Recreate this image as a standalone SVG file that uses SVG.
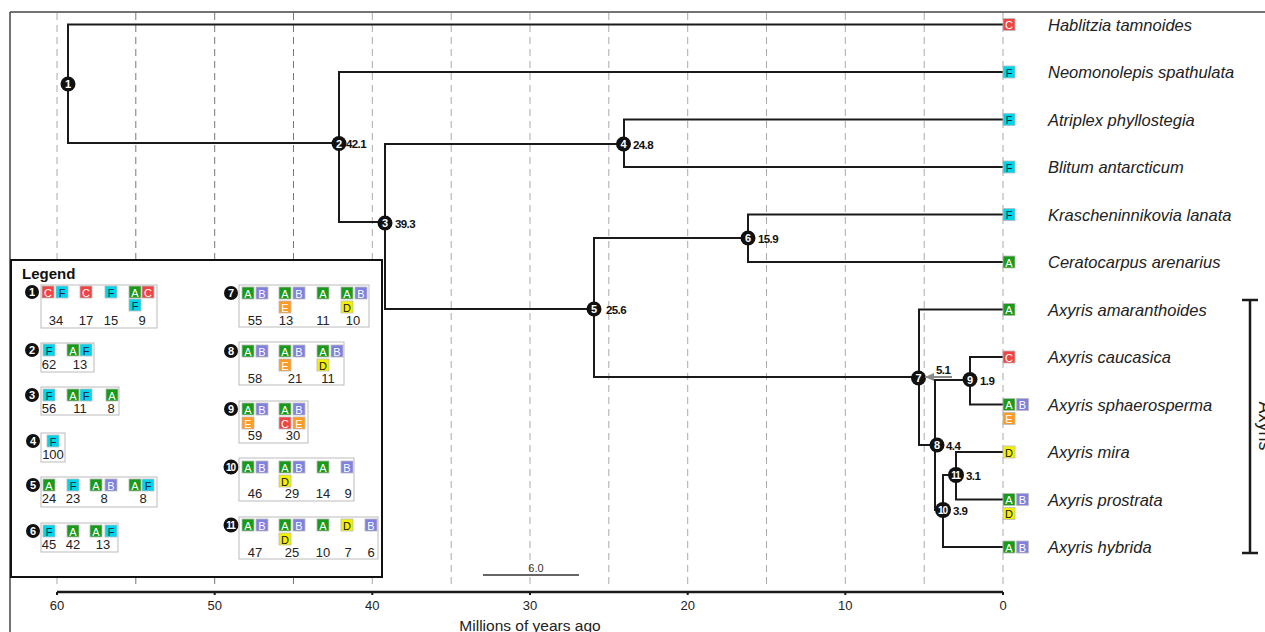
<svg xmlns="http://www.w3.org/2000/svg" width="1265" height="632" viewBox="0 0 1265 632">
<style>
text{font-family:"Liberation Sans",Arial,sans-serif}
.grid{stroke:#aaa;stroke-width:1;stroke-dasharray:7,5}
.grid.dk{stroke:#777}
.br{fill:none;stroke:#1a1a1a;stroke-width:2}
.nc{fill:#111}
.nn{fill:#fff;font-size:11px;font-weight:bold;text-anchor:middle}
.nn2{fill:#fff;font-size:10px;font-weight:bold;text-anchor:middle;letter-spacing:-1px}
.age{fill:#111;font-size:11.5px;font-weight:bold;letter-spacing:-0.6px}
.tip{fill:#222;font-size:16.5px;font-style:italic}
.sq{stroke:#bbb;stroke-width:0.8}
.A{fill:#1a9a1a}.B{fill:#8080e0}.C{fill:#f04444}.D{fill:#f2f200}.E{fill:#ff9a22}.F{fill:#00d4ec}
.l{font-size:11px;text-anchor:middle}
.lw{fill:#fff}.ld{fill:#223}
.lbox{fill:#fff;stroke:#bbb;stroke-width:1}
.num{fill:#222;font-size:13px;text-anchor:middle}
.ax{fill:#222;font-size:13px;text-anchor:middle}
</style>
<defs>
<marker id="arr" markerWidth="9" markerHeight="8" refX="9" refY="4" orient="auto" markerUnits="userSpaceOnUse">
<path d="M0,0 L9,4 L0,8 Z" fill="#888"/>
</marker>
</defs>

<!-- frame -->
<g id="frame">
<line x1="10" y1="12" x2="1265" y2="12" stroke="#444" stroke-width="1.5"/>
<line x1="10" y1="12" x2="10" y2="632" stroke="#444" stroke-width="1.5"/>
</g>

<!-- gridlines -->
<g id="grid">
<line class="grid" x1="57" y1="13" x2="57" y2="588"/>
<line class="grid dk" x1="135.8" y1="13" x2="135.8" y2="588"/>
<line class="grid dk" x1="214.7" y1="13" x2="214.7" y2="588"/>
<line class="grid dk" x1="293.5" y1="13" x2="293.5" y2="588"/>
<line class="grid" x1="372.3" y1="13" x2="372.3" y2="588"/>
<line class="grid" x1="451.2" y1="13" x2="451.2" y2="588"/>
<line class="grid" x1="530" y1="13" x2="530" y2="588"/>
<line class="grid" x1="608.8" y1="13" x2="608.8" y2="588"/>
<line class="grid" x1="687.7" y1="13" x2="687.7" y2="588"/>
<line class="grid" x1="766.5" y1="13" x2="766.5" y2="588"/>
<line class="grid" x1="845.3" y1="13" x2="845.3" y2="588"/>
<line class="grid" x1="924.2" y1="13" x2="924.2" y2="588"/>
<line class="grid" x1="1003" y1="13" x2="1003" y2="588"/>
</g>

<!-- connectors -->
<g id="connectors">
<path class="br" d="M1003,24.5 H68 V143 H339"/>
<path class="br" d="M1003,72 H339 V222 H385"/>
<path class="br" d="M1003,119.5 H624 V167 H1003"/>
<path class="br" d="M624,144 H385 V309 H594"/>
<path class="br" d="M748,238 H594 V377 H919"/>
<path class="br" d="M1003,214.5 H748 V262 H1003"/>
<path class="br" d="M1003,309.5 H919 V445 H937"/>
<path class="br" d="M971,380 H935 V510 H943"/>
<path class="br" d="M1003,357 H970 V404.5 H1003"/>
<path class="br" d="M956,475 H943 V547 H1003"/>
<path class="br" d="M1003,452 H956 V499.5 H1003"/>
</g>

<!-- nodes -->
<g id="node1"><circle class="nc" cx="68" cy="84" r="7.5"/><text class="nn" x="68" y="88">1</text></g>
<g id="node2"><circle class="nc" cx="339" cy="143.5" r="7.5"/><text class="nn" x="339" y="147.5">2</text><text class="age" x="346" y="148">42.1</text></g>
<g id="node3"><circle class="nc" cx="385" cy="223" r="7.5"/><text class="nn" x="385" y="227">3</text><text class="age" x="395" y="227.5">39.3</text></g>
<g id="node4"><circle class="nc" cx="623.5" cy="144" r="7.5"/><text class="nn" x="623.5" y="148">4</text><text class="age" x="633" y="148.5">24.8</text></g>
<g id="node5"><circle class="nc" cx="594" cy="309" r="7.5"/><text class="nn" x="594" y="313">5</text><text class="age" x="606" y="313.5">25.6</text></g>
<g id="node6"><circle class="nc" cx="748" cy="238" r="7.5"/><text class="nn" x="748" y="242">6</text><text class="age" x="758" y="242.5">15.9</text></g>
<g id="node7"><circle class="nc" cx="918.5" cy="378" r="7.5"/><text class="nn" x="918.5" y="382">7</text></g>
<g id="node8"><circle class="nc" cx="937" cy="445" r="7.5"/><text class="nn" x="937" y="449">8</text><text class="age" x="946" y="449.5">4.4</text></g>
<g id="node9"><circle class="nc" cx="970" cy="379.5" r="7.5"/><text class="nn" x="970" y="383.5">9</text><text class="age" x="980" y="384.5">1.9</text></g>
<g id="node10"><circle class="nc" cx="943" cy="510" r="8"/><text class="nn2" x="942.5" y="513.5">10</text><text class="age" x="953" y="515">3.9</text></g>
<g id="node11"><circle class="nc" cx="956" cy="475" r="8"/><text class="nn2" x="955.5" y="478.5">11</text><text class="age" x="966" y="479.5">3.1</text></g>

<!-- arrow with age 5.1 -->
<g id="arrow51">
<line x1="952" y1="377" x2="925" y2="377" stroke="#888" stroke-width="2" marker-end="url(#arr)"/>
<text class="age" x="936" y="374" fill="#333">5.1</text>
</g>

<!-- tips -->
<g id="tip-hablitzia"><rect class="sq C" x="1003" y="18.5" width="12" height="12"/><text class="l lw" x="1009" y="29">C</text><text class="tip" x="1048" y="30.5">Hablitzia tamnoides</text></g>
<g id="tip-neomonolepis"><rect class="sq F" x="1003" y="66" width="12" height="12"/><text class="l ld" x="1009" y="76.5">F</text><text class="tip" x="1048" y="78">Neomonolepis spathulata</text></g>
<g id="tip-atriplex"><rect class="sq F" x="1003" y="113.5" width="12" height="12"/><text class="l ld" x="1009" y="124">F</text><text class="tip" x="1048" y="125.5">Atriplex phyllostegia</text></g>
<g id="tip-blitum"><rect class="sq F" x="1003" y="161" width="12" height="12"/><text class="l ld" x="1009" y="171.5">F</text><text class="tip" x="1048" y="173">Blitum antarcticum</text></g>
<g id="tip-krasch"><rect class="sq F" x="1003" y="208.5" width="12" height="12"/><text class="l ld" x="1009" y="219">F</text><text class="tip" x="1048" y="220.5">Krascheninnikovia lanata</text></g>
<g id="tip-ceratocarpus"><rect class="sq A" x="1003" y="256" width="12" height="12"/><text class="l lw" x="1009" y="266.5">A</text><text class="tip" x="1048" y="268">Ceratocarpus arenarius</text></g>
<g id="tip-amaranthoides"><rect class="sq A" x="1003" y="303.5" width="12" height="12"/><text class="l lw" x="1009" y="314">A</text><text class="tip" x="1048" y="315.5">Axyris amaranthoides</text></g>
<g id="tip-caucasica"><rect class="sq C" x="1003" y="351" width="12" height="12"/><text class="l lw" x="1009" y="361.5">C</text><text class="tip" x="1048" y="363">Axyris caucasica</text></g>
<g id="tip-sphaerosperma"><rect class="sq A" x="1003" y="398.5" width="12" height="12"/><text class="l lw" x="1009" y="409">A</text><rect class="sq B" x="1016.5" y="398.5" width="12" height="12"/><text class="l lw" x="1022.5" y="409">B</text><rect class="sq E" x="1003" y="412.5" width="12" height="12"/><text class="l lw" x="1009" y="423">E</text><text class="tip" x="1048" y="410.5">Axyris sphaerosperma</text></g>
<g id="tip-mira"><rect class="sq D" x="1003" y="446" width="12" height="12"/><text class="l" x="1009" y="456.5" fill="#111">D</text><text class="tip" x="1048" y="458">Axyris mira</text></g>
<g id="tip-prostrata"><rect class="sq A" x="1003" y="493.5" width="12" height="12"/><text class="l lw" x="1009" y="504">A</text><rect class="sq B" x="1016.5" y="493.5" width="12" height="12"/><text class="l lw" x="1022.5" y="504">B</text><rect class="sq D" x="1003" y="507.5" width="12" height="12"/><text class="l" x="1009" y="518" fill="#111">D</text><text class="tip" x="1048" y="505.5">Axyris prostrata</text></g>
<g id="tip-hybrida"><rect class="sq A" x="1003" y="541" width="12" height="12"/><text class="l lw" x="1009" y="551.5">A</text><rect class="sq B" x="1016.5" y="541" width="12" height="12"/><text class="l lw" x="1022.5" y="551.5">B</text><text class="tip" x="1048" y="553">Axyris hybrida</text></g>

<!-- Axyris bracket -->
<g id="axyris-clade">
<path d="M1242,300 H1258 M1250,300 V553 M1242,553 H1258" fill="none" stroke="#1a1a1a" stroke-width="2.5"/>
<text x="1259" y="426" transform="rotate(90 1259 426)" font-size="18" fill="#222" text-anchor="middle">Axyris</text>
</g>

<!-- axis -->
<g id="axis">
<line x1="57" y1="592" x2="1003" y2="592" stroke="#1a1a1a" stroke-width="2.5"/>
<path d="M57,592 v3 M214.7,592 v3 M372.3,592 v3 M530,592 v3 M687.7,592 v3 M845.3,592 v3 M1003,592 v3" stroke="#1a1a1a" stroke-width="2"/>
<text class="ax" x="57" y="610">60</text>
<text class="ax" x="214.7" y="610">50</text>
<text class="ax" x="372.3" y="610">40</text>
<text class="ax" x="530" y="610">30</text>
<text class="ax" x="687.7" y="610">20</text>
<text class="ax" x="845.3" y="610">10</text>
<text class="ax" x="1003" y="610">0</text>
<text x="530" y="631" font-size="15.5" fill="#222" text-anchor="middle">Millions of years ago</text>
</g>

<!-- scale bar -->
<g id="scalebar">
<line x1="483" y1="575" x2="579" y2="575" stroke="#333" stroke-width="1.5"/>
<text x="536" y="572" font-size="11" fill="#333" text-anchor="middle">6.0</text>
</g>

<!-- legend -->
<g id="legend">
<rect x="11" y="260" width="371" height="317" fill="#fff" stroke="#111" stroke-width="2"/>
<text x="22" y="279" font-size="15" font-weight="bold" fill="#111">Legend</text>

<g id="leg1">
<circle class="nc" cx="32" cy="292" r="7"/><text class="nn" x="32" y="296">1</text>
<rect class="lbox" x="41" y="285" width="116" height="43"/>
<rect class="sq C" x="42" y="286" width="12" height="12"/><text class="l lw" x="48" y="296.5">C</text>
<rect class="sq F" x="56" y="286" width="12" height="12"/><text class="l ld" x="62" y="296.5">F</text>
<rect class="sq C" x="80" y="286" width="12" height="12"/><text class="l lw" x="86" y="296.5">C</text>
<rect class="sq F" x="105" y="286" width="12" height="12"/><text class="l ld" x="111" y="296.5">F</text>
<rect class="sq A" x="129" y="286" width="12" height="12"/><text class="l lw" x="135" y="296.5">A</text>
<rect class="sq C" x="142" y="286" width="12" height="12"/><text class="l lw" x="148" y="296.5">C</text>
<rect class="sq F" x="129" y="299" width="12" height="12"/><text class="l ld" x="135" y="309.5">F</text>
<text class="num" x="56" y="325">34</text><text class="num" x="86" y="325">17</text><text class="num" x="111" y="325">15</text><text class="num" x="142" y="325">9</text>
</g>

<g id="leg2">
<circle class="nc" cx="32" cy="350" r="7"/><text class="nn" x="32" y="354">2</text>
<rect class="lbox" x="41" y="343" width="53" height="29"/>
<rect class="sq F" x="43" y="344" width="12" height="12"/><text class="l ld" x="49" y="354.5">F</text>
<rect class="sq A" x="67" y="344" width="12" height="12"/><text class="l lw" x="73" y="354.5">A</text>
<rect class="sq F" x="80" y="344" width="12" height="12"/><text class="l ld" x="86" y="354.5">F</text>
<text class="num" x="49" y="369">62</text><text class="num" x="80" y="369">13</text>
</g>

<g id="leg3">
<circle class="nc" cx="32" cy="395" r="7"/><text class="nn" x="32" y="399">3</text>
<rect class="lbox" x="41" y="387" width="78" height="28"/>
<rect class="sq F" x="43" y="389" width="12" height="12"/><text class="l ld" x="49" y="399.5">F</text>
<rect class="sq A" x="67" y="389" width="12" height="12"/><text class="l lw" x="73" y="399.5">A</text>
<rect class="sq F" x="80" y="389" width="12" height="12"/><text class="l ld" x="86" y="399.5">F</text>
<rect class="sq A" x="106" y="389" width="12" height="12"/><text class="l lw" x="112" y="399.5">A</text>
<text class="num" x="49" y="413">56</text><text class="num" x="80" y="413">11</text><text class="num" x="111" y="413">8</text>
</g>

<g id="leg4">
<circle class="nc" cx="33" cy="441" r="7"/><text class="nn" x="33" y="445">4</text>
<rect class="lbox" x="41" y="433" width="24" height="29"/>
<rect class="sq F" x="47" y="435" width="12" height="12"/><text class="l ld" x="53" y="445.5">F</text>
<text class="num" x="53" y="459">100</text>
</g>

<g id="leg5">
<circle class="nc" cx="33" cy="485" r="7"/><text class="nn" x="33" y="489">5</text>
<rect class="lbox" x="41" y="477" width="116" height="30"/>
<rect class="sq A" x="43" y="479" width="12" height="12"/><text class="l lw" x="49" y="489.5">A</text>
<rect class="sq F" x="67" y="479" width="12" height="12"/><text class="l ld" x="73" y="489.5">F</text>
<rect class="sq A" x="90" y="479" width="12" height="12"/><text class="l lw" x="96" y="489.5">A</text>
<rect class="sq B" x="105" y="479" width="12" height="12"/><text class="l lw" x="111" y="489.5">B</text>
<rect class="sq A" x="129" y="479" width="12" height="12"/><text class="l lw" x="135" y="489.5">A</text>
<rect class="sq F" x="142" y="479" width="12" height="12"/><text class="l ld" x="148" y="489.5">F</text>
<text class="num" x="49" y="503">24</text><text class="num" x="73" y="503">23</text><text class="num" x="104" y="503">8</text><text class="num" x="143" y="503">8</text>
</g>

<g id="leg6">
<circle class="nc" cx="33" cy="531" r="7"/><text class="nn" x="33" y="535">6</text>
<rect class="lbox" x="41" y="523" width="77" height="29"/>
<rect class="sq F" x="43" y="525" width="12" height="12"/><text class="l ld" x="49" y="535.5">F</text>
<rect class="sq A" x="67" y="525" width="12" height="12"/><text class="l lw" x="73" y="535.5">A</text>
<rect class="sq A" x="90" y="525" width="12" height="12"/><text class="l lw" x="96" y="535.5">A</text>
<rect class="sq F" x="105" y="525" width="12" height="12"/><text class="l ld" x="111" y="535.5">F</text>
<text class="num" x="49" y="549">45</text><text class="num" x="73" y="549">42</text><text class="num" x="103" y="549">13</text>
</g>

<g id="leg7">
<circle class="nc" cx="231" cy="293" r="7"/><text class="nn" x="231" y="297">7</text>
<rect class="lbox" x="239" y="285" width="130" height="42"/>
<rect class="sq A" x="242" y="287" width="12" height="12"/><text class="l lw" x="248" y="297.5">A</text>
<rect class="sq B" x="256" y="287" width="12" height="12"/><text class="l lw" x="262" y="297.5">B</text>
<rect class="sq A" x="279" y="287" width="12" height="12"/><text class="l lw" x="285" y="297.5">A</text>
<rect class="sq B" x="293" y="287" width="12" height="12"/><text class="l lw" x="299" y="297.5">B</text>
<rect class="sq A" x="317" y="287" width="12" height="12"/><text class="l lw" x="323" y="297.5">A</text>
<rect class="sq A" x="341" y="287" width="12" height="12"/><text class="l lw" x="347" y="297.5">A</text>
<rect class="sq B" x="355" y="287" width="12" height="12"/><text class="l lw" x="361" y="297.5">B</text>
<rect class="sq E" x="279" y="301" width="12" height="12"/><text class="l lw" x="285" y="311.5">E</text>
<rect class="sq D" x="341" y="301" width="12" height="12"/><text class="l" x="347" y="311.5" fill="#111">D</text>
<text class="num" x="255" y="325">55</text><text class="num" x="286" y="325">13</text><text class="num" x="323" y="325">11</text><text class="num" x="353" y="325">10</text>
</g>

<g id="leg8">
<circle class="nc" cx="231" cy="351" r="7"/><text class="nn" x="231" y="355">8</text>
<rect class="lbox" x="239" y="342" width="105" height="43"/>
<rect class="sq A" x="242" y="345" width="12" height="12"/><text class="l lw" x="248" y="355.5">A</text>
<rect class="sq B" x="256" y="345" width="12" height="12"/><text class="l lw" x="262" y="355.5">B</text>
<rect class="sq A" x="279" y="345" width="12" height="12"/><text class="l lw" x="285" y="355.5">A</text>
<rect class="sq B" x="293" y="345" width="12" height="12"/><text class="l lw" x="299" y="355.5">B</text>
<rect class="sq A" x="317" y="345" width="12" height="12"/><text class="l lw" x="323" y="355.5">A</text>
<rect class="sq B" x="331" y="345" width="12" height="12"/><text class="l lw" x="337" y="355.5">B</text>
<rect class="sq E" x="279" y="359" width="12" height="12"/><text class="l lw" x="285" y="369.5">E</text>
<rect class="sq D" x="317" y="359" width="12" height="12"/><text class="l" x="323" y="369.5" fill="#111">D</text>
<text class="num" x="255" y="383">58</text><text class="num" x="295" y="383">21</text><text class="num" x="328" y="383">11</text>
</g>

<g id="leg9">
<circle class="nc" cx="231" cy="409" r="7"/><text class="nn" x="231" y="413">9</text>
<rect class="lbox" x="239" y="401" width="69" height="42"/>
<rect class="sq A" x="242" y="403" width="12" height="12"/><text class="l lw" x="248" y="413.5">A</text>
<rect class="sq B" x="256" y="403" width="12" height="12"/><text class="l lw" x="262" y="413.5">B</text>
<rect class="sq A" x="279" y="403" width="12" height="12"/><text class="l lw" x="285" y="413.5">A</text>
<rect class="sq B" x="293" y="403" width="12" height="12"/><text class="l lw" x="299" y="413.5">B</text>
<rect class="sq E" x="242" y="417" width="12" height="12"/><text class="l lw" x="248" y="427.5">E</text>
<rect class="sq C" x="279" y="417" width="12" height="12"/><text class="l lw" x="285" y="427.5">C</text>
<rect class="sq E" x="293" y="417" width="12" height="12"/><text class="l lw" x="299" y="427.5">E</text>
<text class="num" x="255" y="440">59</text><text class="num" x="293" y="440">30</text>
</g>

<g id="leg10">
<circle class="nc" cx="231" cy="467" r="7.5"/><text class="nn2" x="230.5" y="470.5">10</text>
<rect class="lbox" x="239" y="458" width="115" height="43"/>
<rect class="sq A" x="242" y="461" width="12" height="12"/><text class="l lw" x="248" y="471.5">A</text>
<rect class="sq B" x="256" y="461" width="12" height="12"/><text class="l lw" x="262" y="471.5">B</text>
<rect class="sq A" x="279" y="461" width="12" height="12"/><text class="l lw" x="285" y="471.5">A</text>
<rect class="sq B" x="293" y="461" width="12" height="12"/><text class="l lw" x="299" y="471.5">B</text>
<rect class="sq A" x="317" y="461" width="12" height="12"/><text class="l lw" x="323" y="471.5">A</text>
<rect class="sq B" x="341" y="461" width="12" height="12"/><text class="l lw" x="347" y="471.5">B</text>
<rect class="sq D" x="279" y="475" width="12" height="12"/><text class="l" x="285" y="485.5" fill="#111">D</text>
<text class="num" x="255" y="498">46</text><text class="num" x="292" y="498">29</text><text class="num" x="323" y="498">14</text><text class="num" x="348" y="498">9</text>
</g>

<g id="leg11">
<circle class="nc" cx="231" cy="525" r="7.5"/><text class="nn2" x="230.5" y="528.5">11</text>
<rect class="lbox" x="239" y="517" width="139" height="42"/>
<rect class="sq A" x="242" y="519" width="12" height="12"/><text class="l lw" x="248" y="529.5">A</text>
<rect class="sq B" x="256" y="519" width="12" height="12"/><text class="l lw" x="262" y="529.5">B</text>
<rect class="sq A" x="279" y="519" width="12" height="12"/><text class="l lw" x="285" y="529.5">A</text>
<rect class="sq B" x="293" y="519" width="12" height="12"/><text class="l lw" x="299" y="529.5">B</text>
<rect class="sq A" x="317" y="519" width="12" height="12"/><text class="l lw" x="323" y="529.5">A</text>
<rect class="sq D" x="341" y="519" width="12" height="12"/><text class="l" x="347" y="529.5" fill="#111">D</text>
<rect class="sq B" x="365" y="519" width="12" height="12"/><text class="l lw" x="371" y="529.5">B</text>
<rect class="sq D" x="279" y="533" width="12" height="12"/><text class="l" x="285" y="543.5" fill="#111">D</text>
<text class="num" x="255" y="557">47</text><text class="num" x="292" y="557">25</text><text class="num" x="323" y="557">10</text><text class="num" x="348" y="557">7</text><text class="num" x="371" y="557">6</text>
</g>
</g>
</svg>
